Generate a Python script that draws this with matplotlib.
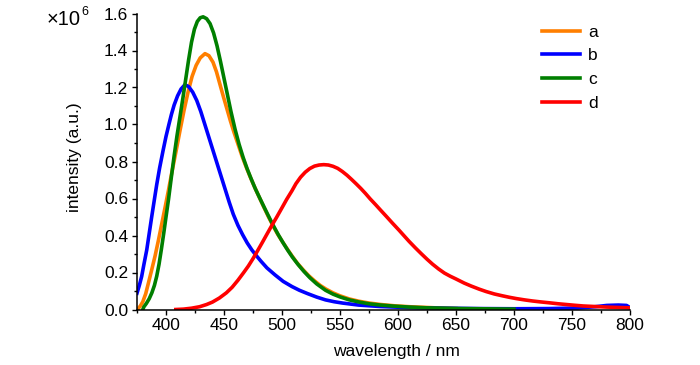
import matplotlib
matplotlib.use("Agg")
import matplotlib.pyplot as plt
from matplotlib.ticker import MultipleLocator, FormatStrFormatter

# ---------------- data (intensity in units of 1e6) ----------------
wl_a = [376, 378, 380, 382.5, 384.8, 387.5, 390.6, 393.5, 396.4, 399.3, 402.2, 405, 408.5,
        412, 415.5, 419, 422.5, 426, 429.5, 433.6, 437, 440.5, 443.5, 446.6, 449.5, 452.5,
        455.5, 458.5, 462, 465.5, 469, 472.5, 476, 480, 484, 488, 492, 496, 500, 504, 508.6,
        513, 518, 523, 528, 533, 538, 544, 550, 558, 566, 575, 585, 597, 610, 625, 640, 650]
int_a = [0.005, 0.02, 0.042, 0.085, 0.142, 0.21, 0.29, 0.375, 0.465, 0.555, 0.647, 0.74, 0.85,
         0.965, 1.075, 1.175, 1.26, 1.32, 1.36, 1.383, 1.372, 1.337, 1.285, 1.215, 1.15, 1.085,
         1.02, 0.96, 0.895, 0.83, 0.772, 0.718, 0.667, 0.612, 0.558, 0.505, 0.456, 0.41, 0.37,
         0.332, 0.29, 0.252, 0.216, 0.183, 0.155, 0.13, 0.11, 0.09, 0.074, 0.057, 0.045, 0.035,
         0.027, 0.02, 0.015, 0.011, 0.007, 0.005]

wl_b = [375, 377, 379, 381, 383.4, 385.5, 387.7, 390, 392, 394.5, 397.5, 400, 402.5, 404.7,
        407, 410, 413, 416.3, 419.5, 423, 426.5, 430, 433.5, 437, 440.5, 444, 447.5, 451,
        454.5, 458, 462, 466, 470, 474, 478, 482, 487, 494, 501, 508.6, 515, 522, 530, 537.5,
        545, 552, 566, 585, 610, 640, 670, 700, 730, 755, 770, 780, 790, 797, 800]
int_b = [0.088, 0.13, 0.178, 0.245, 0.322, 0.41, 0.502, 0.595, 0.675, 0.765, 0.86, 0.935, 1.0,
         1.055, 1.105, 1.155, 1.192, 1.215, 1.205, 1.175, 1.13, 1.07, 1.0, 0.93, 0.86, 0.79,
         0.72, 0.65, 0.58, 0.515, 0.455, 0.405, 0.36, 0.322, 0.29, 0.26, 0.225, 0.187, 0.152,
         0.124, 0.104, 0.086, 0.067, 0.052, 0.042, 0.035, 0.024, 0.016, 0.01, 0.007, 0.005,
         0.004, 0.005, 0.008, 0.015, 0.022, 0.024, 0.022, 0.01]

wl_c = [380, 381, 383, 385.5, 387.8, 390, 392, 394, 396, 398, 400, 402.2, 404.5, 407, 409.5,
        412, 414.5, 417, 419.5, 422, 424.5, 427, 429.5, 432, 435, 438, 441, 444, 447, 450,
        453, 456, 459.5, 463, 466.5, 470, 473.5, 477, 481, 485, 489, 493, 497, 501, 505, 509,
        514, 519, 524, 530, 537.5, 544, 550, 558, 566, 575, 585, 597, 610, 625, 640, 655, 670,
        685, 700]
int_c = [0.0, 0.015, 0.032, 0.058, 0.09, 0.13, 0.18, 0.245, 0.325, 0.41, 0.5, 0.597, 0.71, 0.83,
         0.94, 1.04, 1.14, 1.245, 1.35, 1.445, 1.515, 1.557, 1.577, 1.582, 1.572, 1.545, 1.495,
         1.425, 1.34, 1.25, 1.16, 1.07, 0.975, 0.893, 0.822, 0.76, 0.705, 0.653, 0.6, 0.548,
         0.497, 0.448, 0.402, 0.36, 0.32, 0.283, 0.242, 0.205, 0.172, 0.138, 0.104, 0.083,
         0.068, 0.052, 0.041, 0.031, 0.024, 0.018, 0.013, 0.009, 0.007, 0.005, 0.004, 0.003,
         0.002]

wl_d = [408.5, 415, 422, 429, 435, 440, 446, 452, 457, 462, 467, 471, 475, 479, 483, 487,
        491.3, 495.5, 500, 504, 508.6, 512, 516, 520, 524, 528, 532, 536, 540, 544, 548, 552,
        556, 560, 564, 568, 572, 576, 580.8, 585, 590, 595.2, 601, 605, 609.6, 615, 620, 625,
        629.8, 635, 640, 645, 650, 657, 663, 670, 676, 683, 690, 696, 702, 709, 716, 723,
        730.8, 738, 745, 752, 759.7, 770, 780, 790, 800]
int_d = [0.0, 0.002, 0.007, 0.015, 0.027, 0.04, 0.062, 0.09, 0.12, 0.158, 0.2, 0.235, 0.275,
         0.318, 0.362, 0.407, 0.455, 0.5, 0.55, 0.595, 0.642, 0.68, 0.715, 0.742, 0.762, 0.775,
         0.781, 0.783, 0.781, 0.774, 0.763, 0.746, 0.726, 0.703, 0.679, 0.654, 0.627, 0.598,
         0.566, 0.537, 0.503, 0.467, 0.428, 0.4, 0.368, 0.333, 0.302, 0.272, 0.245, 0.219,
         0.197, 0.18, 0.165, 0.143, 0.127, 0.11, 0.097, 0.084, 0.074, 0.066, 0.059, 0.052,
         0.046, 0.041, 0.036, 0.031, 0.027, 0.023, 0.019, 0.016, 0.013, 0.011, 0.009]

labels = ["a", "b", "c", "d"]
colors = ["#FF7F00", "#0000FF", "#007F00", "#FF0000"]

x_label = "wavelength / nm"
y_label = "intensity (a.u.)"

# ---------------- style ----------------
FS = 12.5
plt.rcParams["font.family"] = ["Liberation Sans", "DejaVu Sans"]

fig = plt.figure(figsize=(7.0, 3.65), dpi=100)
ax = fig.add_axes([137/700, 1-309.5/365, (630-137)/700, (309.5-13.5)/365])

series = [(wl_a, int_a), (wl_b, int_b), (wl_c, int_c), (wl_d, int_d)]
for (wx, wy), lab, col in zip(series, labels, colors):
    ax.plot(wx, wy, color=col, lw=2.6, label=lab, solid_joinstyle="round")

ax.set_xlim(375, 800)
ax.set_ylim(0, 1.6)
ax.xaxis.set_major_locator(MultipleLocator(50))
ax.xaxis.set_minor_locator(MultipleLocator(25))
ax.yaxis.set_major_locator(MultipleLocator(0.2))
ax.yaxis.set_minor_locator(MultipleLocator(0.1))
ax.yaxis.set_major_formatter(FormatStrFormatter("%.1f"))

for s in ["top", "right"]:
    ax.spines[s].set_visible(False)
for s in ["left", "bottom"]:
    ax.spines[s].set_linewidth(1.1)

ax.tick_params(which="major", direction="out", length=3.8, width=1.0, labelsize=FS, pad=2.5)
ax.tick_params(which="minor", direction="out", length=2.2, width=1.0)

ax.set_xlabel(x_label, fontsize=FS)
ax.set_ylabel(y_label, fontsize=FS)
ax.xaxis.set_label_coords((396-137)/493, -0.115)
ax.yaxis.set_label_coords((82-137)/493, 0.516)

fig.text(47/700, 1-25/365, "×10", fontsize=14.5, ha="left", va="baseline")
fig.text(81.5/700, 1-15/365, "6", fontsize=9, ha="left", va="baseline")

leg = ax.legend(loc="upper left", bbox_to_anchor=(541.5/700, 1-24.5/365),
                bbox_transform=fig.transFigure, frameon=False, fontsize=FS,
                handlelength=2.2, handletextpad=0.5, labelspacing=0.5,
                borderaxespad=0, borderpad=0)
for h in leg.get_lines():
    h.set_linewidth(2.6)

fig.savefig("out.png", dpi=100)
